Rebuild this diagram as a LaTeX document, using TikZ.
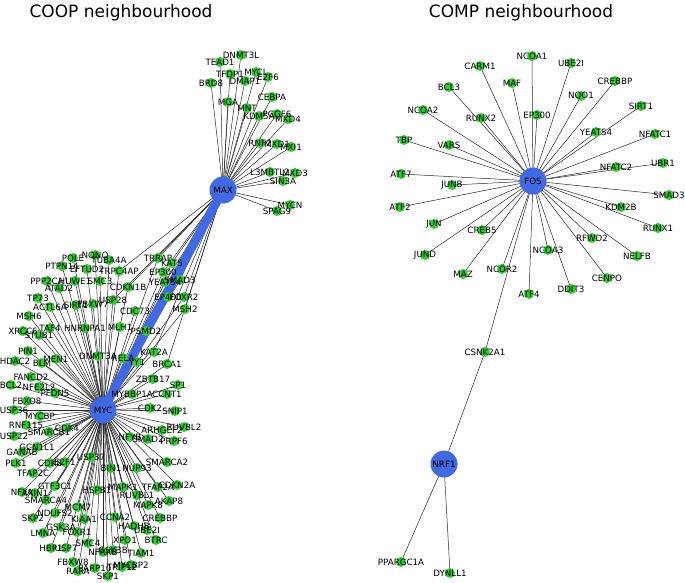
\documentclass[tikz,border=0pt]{standalone}
\usepackage{fontspec}
\setmainfont{DejaVu Sans}
\definecolor{limeg}{RGB}{50,205,50}
\definecolor{royal}{RGB}{65,105,225}
\newcommand{\lbfont}{\fontsize{8.7}{9}\selectfont}
\newcommand{\ttlfont}{\fontsize{17}{20}\selectfont}
\tikzset{
  gn/.style={circle, fill=limeg, inner sep=0pt, minimum size=10pt},
  bn/.style={circle, fill=royal, inner sep=0pt, minimum size=27pt},
  ed/.style={line width=0.5pt, black!85},
  thick edge/.style={line width=9pt, royal},
  lb/.style={font=\lbfont, inner sep=0pt, text=black},
  ttl/.style={font=\ttlfont, inner sep=0pt}
}
\def\mycl{NONO/95/255, POLE/73/258, TUBA4A/109/260, PTPN14/62/266, EFTUD2/87/269, TRRAP/158/258, KAT5/172/263, TRPC4AP/119/271, EP300/163/272, PPP2CA/47/281, HUWE1/75/281, SMC3/100/281, CDKN1B/128/287, YEATS4/165/282, SMAD3/180/280, ATAD2/59/288, TP73/38/298, ACTL6A/50/307, SIRT1/76/305, FBXW7/93/304, USP28/113/300, EP400/168/297, FOXR2/184/297, MSH2/185/309, CDC73/135/311, MSH6/29/316, XRCC6/23/331, TAF4/50/328, HNRNPA1/85/328, MLH1/120/327, PSMD2/146/331, STUB1/39/335, PIN1/28/351, HDAC2/15/361, BLM/42/363, MEN1/56/359, DNMT3A/98/356, RELA/123/358, KAT2A/154/352, YY1/137/362, BRCA1/167/364, FANCD2/31/377, BCL2/11/385, NFE2L2/39/387, PFDN5/55/393, ZBTB17/153/379, SP1/178/385, MYBBP1A/132/394, CCNT1/167/394, FBXO8/27/401, USP36/14/410, CDK2/150/408, SNIP1/175/411, MYCBP/40/416, RNF115/26/425, CDK4/67/428, SMARCB1/49/432, USP22/14/436, RUVBL2/184/427, ARHGEF2/162/430, NFYB/130/437, SMAD2/148/439, PRPF6/174/441, GCN1L1/37/447, GANAB/22/452, USP37/91/457, PLK1/16/463, CDK8/50/463, E2F1/65/462, BIN1/111/468, NUP93/137/468, SMARCA2/167/462, TFAP2C/33/473, GTF3C1/55/486, HSPB1/97/490, NFYA/22/492, AXIN1/35/493, MAPK1/123/487, TFAP2A/158/487, CDKN2A/177/485, RUVBL1/137/495, SMARCA4/46/500, AKAP8/169/501, MAPK8/148/505, MCM7/78/507, NDUFS2/55/513, SKP2/33/518, KIAA1/84/519, CCNA2/115/517, CREBBP/160/518, HADHB/134/526, UBE2I/147/530, GSK3A/61/527, LMNA/43/533, FOXR1/77/532, XPO1/125/540, BTRC/156/540, SMC4/88/543, HBP1/51/548, USP7/66/548, NFRKB/103/552, GSK3B/113/550, TIAM1/141/553, FBXW8/73/562, RARA/78/571, PARP10/95/568, TRIP12/122/567, MYCBP2/131/565, SKP1/108/576}
\def\maxl{DNMT3L/241/55, TEAD1/220/62, TFDP1/230/74, MYCL/256/72, E2F6/268/77, DMAP1/245/81, BRD8/211/83, CEBPA/272/97, MGA/228/102, MNT/247/108, KDM5A/259/116, PCGF6/277/114, MXD4/288/119, RNF2/260/143, MXD1/277/144, MXI1/291/147, L3MBTL2/270/172, MXD3/295/173, SIN3A/283/181, MYCN/290/205, SPAG9/277/211}
\def\maxextra{TRRAP, KAT5, EP300, SMAD3, YEATS4, EP400, FOXR2, MSH2, KAT2A, BRCA1, CDKN1B, TRPC4AP, USP28}
\def\fosl{NCOA1/532/56, UBE2I/571/63, CARM1/480/66, MAF/512/83, BCL3/449/87, CREBBP/615/81, NQO1/581/96, SIRT1/641/106, NCOA2/423/110, RUNX2/481/118, EP300/537/115, YEATS4/596/132, NFATC1/655/134, TBP/404/140, VARS/449/145, UBR1/663/163, NFATC2/616/167, ATF7/401/174, JUNB/452/185, SMAD3/669/195, ATF2/400/207, KDM2B/621/207, JUN/434/224, CREB5/482/230, RUNX1/658/228, RFWD2/592/238, NCOA3/548/250, JUND/425/255, NELFB/637/256, MAZ/463/274, NCOR2/502/269, CENPO/607/278, DDIT3/571/289, ATF4/529/294}
\def\nrfl{PPARGC1A/401/562, DYNLL1/450/573}
\begin{document}
\begin{tikzpicture}[x=1pt,y=-1pt]
\useasboundingbox (0,0) rectangle (685,582);
% titles
\node[ttl] (t1) at (121,13) {COOP neighbourhood};
\node[ttl] (t2) at (521,13) {COMP neighbourhood};
% hub coordinates
\coordinate (MYC) at (103,410);
\coordinate (MAX) at (223,190);
\coordinate (FOS) at (533,181);
\coordinate (NRF1) at (444,464);
\coordinate (bCSNK2A1) at (485,352);
\foreach \n/\x/\y in \mycl {\coordinate (a\n) at (\x,\y);}
\foreach \n/\x/\y in \maxl {\coordinate (m\n) at (\x,\y);}
\foreach \n/\x/\y in \fosl {\coordinate (b\n) at (\x,\y);}
\foreach \n/\x/\y in \nrfl {\coordinate (b\n) at (\x,\y);}
% edges
\foreach \n/\x/\y in \mycl {\draw[ed] (MYC) -- (a\n);}
\foreach \n/\x/\y in \maxl {\draw[ed] (MAX) -- (m\n);}
\foreach \n in \maxextra {\draw[ed] (MAX) -- (a\n);}
\foreach \n/\x/\y in \fosl {\draw[ed] (FOS) -- (b\n);}
\foreach \n/\x/\y in \nrfl {\draw[ed] (NRF1) -- (b\n);}
\draw[ed] (FOS) -- (bCSNK2A1);
\draw[ed] (bCSNK2A1) -- (NRF1);
\draw[thick edge] (MYC) -- (MAX);
% nodes
\foreach \n/\x/\y in \mycl {\node[gn] (na\n) at (a\n) {};}
\foreach \n/\x/\y in \maxl {\node[gn] (nm\n) at (m\n) {};}
\foreach \n/\x/\y in \fosl {\node[gn] (nb\n) at (b\n) {};}
\foreach \n/\x/\y in \nrfl {\node[gn] (nb\n) at (b\n) {};}
\node[gn] (nbCSNK2A1) at (bCSNK2A1) {};
\node[bn] (nMYC) at (MYC) {};
\node[bn] (nMAX) at (MAX) {};
\node[bn] (nFOS) at (FOS) {};
\node[bn] (nNRF1) at (NRF1) {};
% labels
\foreach \n/\x/\y in \mycl {\node[lb] (la\n) at (a\n) {\n};}
\foreach \n/\x/\y in \maxl {\node[lb] (lm\n) at (m\n) {\n};}
\foreach \n/\x/\y in \fosl {\node[lb] (lb\n) at (b\n) {\n};}
\foreach \n/\x/\y in \nrfl {\node[lb] (lb\n) at (b\n) {\n};}
\node[lb] (lbCSNK2A1) at (bCSNK2A1) {CSNK2A1};
\node[lb] (lMYC) at (MYC) {MYC};
\node[lb] (lMAX) at (MAX) {MAX};
\node[lb] (lFOS) at (FOS) {FOS};
\node[lb] (lNRF1) at (NRF1) {NRF1};
\end{tikzpicture}
\end{document}
